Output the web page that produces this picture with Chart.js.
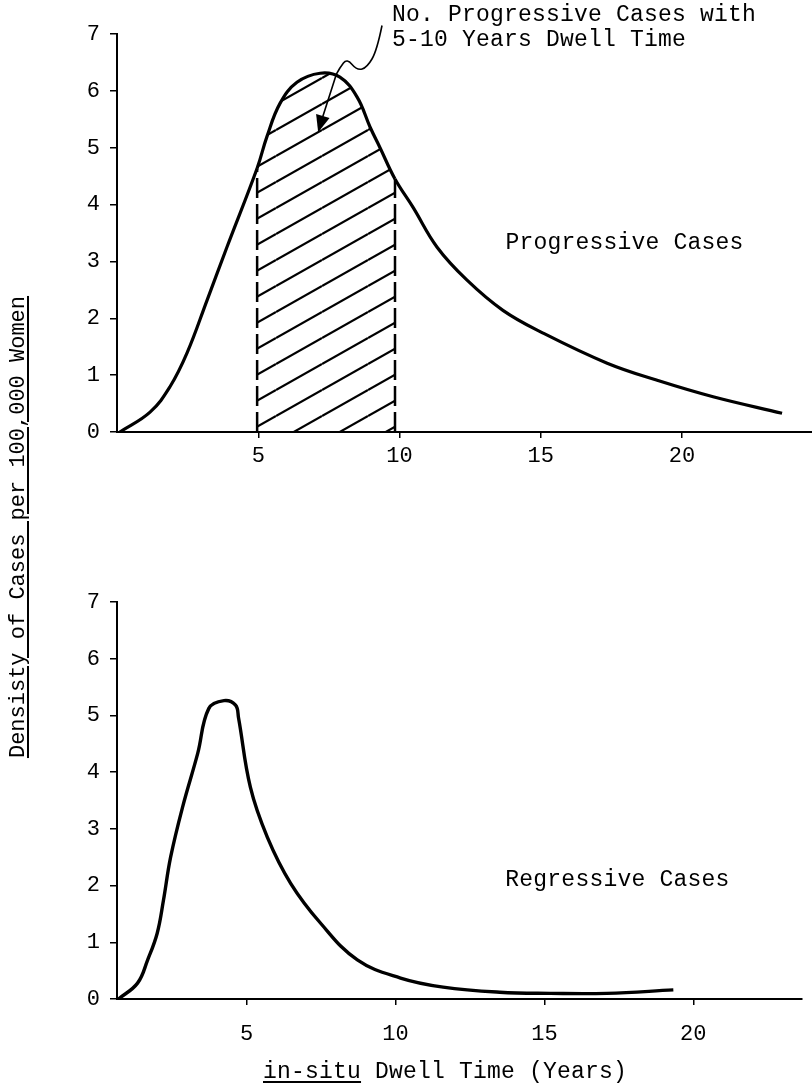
<!DOCTYPE html>
<html>
<head>
<meta charset="utf-8">
<script src="https://cdn.jsdelivr.net/npm/chart.js@4.4.0/dist/chart.umd.min.js"></script>
<style>
  body { margin: 0; background: #fff; width: 812px; height: 1089px; position: relative; overflow: hidden;
         font-family: "Liberation Mono", "DejaVu Sans Mono", monospace; color: #000; }
  #progChart { position: absolute; left: 0; top: 0; }
  #regChart { position: absolute; left: 0; top: 560px; }
  .ylab { position: absolute; left: -221px; top: 514px; width: 480px; height: 26px; line-height: 26px;
          text-align: center; transform: rotate(-90deg); font-size: 22px;
          text-decoration: underline; text-underline-offset: 3px; white-space: nowrap; }
  .xlab { position: absolute; left: 263px; top: 1059px; line-height: 26px; font-size: 23px;
          letter-spacing: 0.2px; white-space: nowrap; }
  .xlab u { text-underline-offset: 3px; }
</style>
</head>
<body>
<canvas id="progChart" width="812" height="480"></canvas>
<canvas id="regChart" width="812" height="529"></canvas>
<div class="ylab">Densisty of Cases per 100,000 Women</div>
<div class="xlab"><u>in-situ</u> Dwell Time (Years)</div>
<script>
// axis ticks
const xTicks = [5, 10, 15, 20];
const yTicks = [0, 1, 2, 3, 4, 5, 6, 7];

// progressive cases: dwell time (years) vs density
const progYears   = [0.1, 1.17, 1.88, 2.48, 3.19, 3.89, 4.96, 5.31, 5.77, 6.37, 7.19, 7.89, 8.5, 8.96, 9.31, 9.84, 10.48, 11.33, 12.39, 13.66, 15.08, 17.35, 19.12, 21.1, 23.54];
const progDensity = [0,   0.35, 0.8,  1.39, 2.32, 3.25, 4.64, 5.2,  5.78, 6.15, 6.31, 6.24, 5.89, 5.36, 5.0,  4.45, 3.95,  3.25,  2.67,  2.14,  1.74,  1.21,  0.91,  0.62, 0.33];

// shaded band: 5-10 years dwell time
const hatchFrom = 4.96;
const hatchTo = 9.84;

// regressive cases
const regYears   = [0.7, 1.34, 1.68, 2.0,  2.21, 2.45, 2.85, 3.36, 3.73, 4.24, 4.63, 4.73, 5.13, 5.7,  6.48, 7.48, 8.72, 10.17, 11.6, 13.5, 15.2, 17.1, 19.33];
const regDensity = [0,   0.28, 0.69, 1.16, 1.74, 2.5,  3.38, 4.33, 5.12, 5.26, 5.18, 4.96, 3.73, 2.85, 2.04, 1.34, 0.69, 0.37,  0.21, 0.12, 0.1,  0.1,  0.16];

// pointer from the note down into the shaded band (years, density)
const arrowYears   = [9.38, 9.2,  8.85, 8.5,  8.14, 7.89, 7.65, 7.12];
const arrowDensity = [7.15, 6.71, 6.41, 6.36, 6.57, 6.41, 6.19, 5.27];

const FONT = '"Liberation Mono", "DejaVu Sans Mono", monospace';

function pts(xs, ys) { return xs.map((x, i) => ({ x: x, y: ys[i] })); }

function hatchPattern() {
  const c = document.createElement('canvas');
  c.width = 46; c.height = 26;
  const g = c.getContext('2d');
  g.strokeStyle = '#000';
  g.lineWidth = 2.2;
  for (const k of [-1, 0, 1]) {
    g.beginPath();
    g.moveTo(0, 26 + 26 * k);
    g.lineTo(46, 26 * k);
    g.stroke();
  }
  return g.createPattern(c, 'repeat');
}

function scales(xMin, xMax, xPad, xHeight) {
  return {
    x: {
      type: 'linear', min: xMin, max: xMax,
      afterBuildTicks: s => { s.ticks = xTicks.map(v => ({ value: v })); },
      afterFit: s => { s.height = xHeight; },
      border: { display: true, color: '#000', width: 2 },
      grid: { drawOnChartArea: false, color: '#000', tickLength: 6, lineWidth: 1.5 },
      ticks: { color: '#000', padding: xPad, maxRotation: 0, font: { family: FONT, size: 22 } }
    },
    y: {
      min: 0, max: 7,
      afterBuildTicks: s => { s.ticks = yTicks.map(v => ({ value: v })); },
      afterFit: s => { s.width = 117; },
      border: { display: true, color: '#000', width: 2 },
      grid: { drawOnChartArea: false, color: '#000', tickLength: 7, lineWidth: 1.5 },
      ticks: { color: '#000', padding: 10, font: { family: FONT, size: 22 } }
    }
  };
}

// text labels placed in data units
const labelPlugin = {
  id: 'labels',
  afterDraw(chart, args, opts) {
    const { ctx, scales: { x, y } } = chart;
    ctx.save();
    ctx.fillStyle = '#000';
    ctx.font = '23px ' + FONT;
    ctx.letterSpacing = '0.2px';
    ctx.textAlign = 'left';
    ctx.textBaseline = 'middle';
    for (const t of opts.items || []) {
      ctx.fillText(t.text, x.getPixelForValue(t.x), y.getPixelForValue(t.y));
    }
    if (opts.arrow) {
      const p = opts.arrow.map(a => [x.getPixelForValue(a.x), y.getPixelForValue(a.y)]);
      const tip = p[p.length - 1], prev = p[p.length - 2];
      const ang = Math.atan2(tip[1] - prev[1], tip[0] - prev[0]);
      const back = [tip[0] - 14 * Math.cos(ang), tip[1] - 14 * Math.sin(ang)];
      ctx.strokeStyle = '#000';
      ctx.lineWidth = 1.6;
      ctx.lineJoin = 'round';
      ctx.beginPath();
      ctx.moveTo(p[0][0], p[0][1]);
      for (let i = 1; i < p.length - 2; i++) {
        const mx = (p[i][0] + p[i + 1][0]) / 2, my = (p[i][1] + p[i + 1][1]) / 2;
        ctx.quadraticCurveTo(p[i][0], p[i][1], mx, my);
      }
      ctx.lineTo(back[0], back[1]);
      ctx.stroke();
      // arrow head
      ctx.beginPath();
      ctx.moveTo(tip[0], tip[1]);
      ctx.lineTo(tip[0] - 17 * Math.cos(ang) + 7 * Math.sin(ang), tip[1] - 17 * Math.sin(ang) - 7 * Math.cos(ang));
      ctx.lineTo(tip[0] - 17 * Math.cos(ang) - 7 * Math.sin(ang), tip[1] - 17 * Math.sin(ang) + 7 * Math.cos(ang));
      ctx.closePath();
      ctx.fill();
    }
    ctx.restore();
  }
};

const hatch = hatchPattern();
const yFrom = progDensity[progYears.indexOf(hatchFrom)];
const yTo = progDensity[progYears.indexOf(hatchTo)];

const edgeStyle = { type: 'line', borderColor: '#000', borderWidth: 2.5, borderDash: [20, 6], pointRadius: 0, fill: false };

new Chart(document.getElementById('progChart'), {
  type: 'line',
  data: {
    datasets: [
      {
        data: pts(progYears, progDensity),
        borderColor: '#000', borderWidth: 3.2, pointRadius: 0,
        tension: 0.4,
        fill: 'origin',
        backgroundColor: 'rgba(0,0,0,0)',
        segment: {
          backgroundColor: c => (c.p0.parsed.x >= hatchFrom && c.p1.parsed.x <= hatchTo) ? hatch : undefined
        }
      },
      Object.assign({ data: [{ x: hatchFrom, y: 0 }, { x: hatchFrom, y: yFrom }] }, edgeStyle),
      Object.assign({ data: [{ x: hatchTo, y: 0 }, { x: hatchTo, y: yTo }] }, edgeStyle)
    ]
  },
  options: {
    responsive: false,
    animation: false,
    events: [],
    layout: { padding: { top: 34, left: 0, right: 0, bottom: 0 } },
    plugins: {
      legend: { display: false },
      tooltip: { enabled: false },
      labels: {
        items: [
          { text: 'Progressive Cases', x: 13.75, y: 3.32 },
          { text: 'No. Progressive Cases with', x: 9.73, y: 7.33 },
          { text: '5-10 Years Dwell Time', x: 9.73, y: 6.89 }
        ],
        arrow: pts(arrowYears, arrowDensity)
      }
    },
    scales: scales(0, 24.6, 5, 48)
  },
  plugins: [labelPlugin]
});

new Chart(document.getElementById('regChart'), {
  type: 'line',
  data: {
    datasets: [
      {
        data: pts(regYears, regDensity),
        borderColor: '#000', borderWidth: 3.4, pointRadius: 0,
        tension: 0.4,
        fill: false
      }
    ]
  },
  options: {
    responsive: false,
    animation: false,
    events: [],
    layout: { padding: { top: 42, left: 0, right: 10, bottom: 0 } },
    plugins: {
      legend: { display: false },
      tooltip: { enabled: false },
      labels: {
        items: [
          { text: 'Regressive Cases', x: 13.69, y: 2.1 }
        ]
      }
    },
    scales: scales(0.65, 23.65, 16, 90)
  },
  plugins: [labelPlugin]
});
</script>
</body>
</html>
